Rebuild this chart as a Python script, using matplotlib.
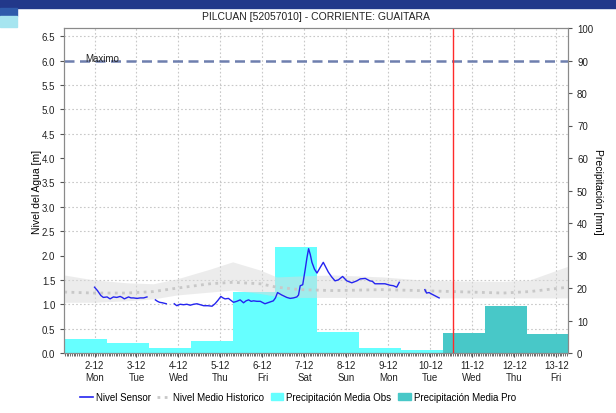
import numpy as np
import matplotlib
matplotlib.use('Agg')
import matplotlib.pyplot as plt
from matplotlib.ticker import MultipleLocator, FormatStrFormatter
from matplotlib.patches import Rectangle, Patch
from matplotlib.lines import Line2D

plt.rcParams['font.family'] = ['Liberation Sans', 'DejaVu Sans']

# x values are days of December (2.0 = 2-12 00:00)
day_ticks = [2, 3, 4, 5, 6, 7, 8, 9, 10, 11, 12, 13]
day_labels = ['2-12\nMon', '3-12\nTue', '4-12\nWed', '5-12\nThu', '6-12\nFri', '7-12\nSat',
              '8-12\nSun', '9-12\nMon', '10-12\nTue', '11-12\nWed', '12-12\nThu', '13-12\nFri']

# daily precipitation, each day counted from 07:00
obs_day = [0, 1, 2, 3, 4, 5, 6, 7, 8, 9]
obs_mm = [21.0, 4.3, 3.1, 1.5, 3.7, 18.9, 32.7, 6.6, 1.5, 0.9]
pro_day = [10, 11, 12]
pro_mm = [6.1, 14.5, 5.9]

# sensor level (nan = no data)
sensor_t = [2.00, 2.07, 2.15, 2.21, 2.30, 2.37, 2.45, 2.53, 2.61, 2.66, 2.71, 2.81, 2.87, 2.93, 3.01, 3.09, 3.17, 3.25,
            np.nan,
            3.45, 3.50, 3.55, 3.62, 3.71,
            np.nan,
            3.90, 3.96, 4.04, 4.12, 4.20, 4.28, 4.36, 4.44, 4.52, 4.60, 4.70, 4.80, 4.87, 4.94, 5.01, 5.06, 5.11,
            5.19, 5.25, 5.31, 5.39, 5.47, 5.55, 5.61, 5.67, 5.73, 5.79, 5.87, 5.95, 6.06, 6.16, 6.26, 6.31,
            6.36, 6.46, 6.58, 6.66, 6.74, 6.82, 6.86, 6.90, 6.96, 7.02, 7.06, 7.10, 7.14, 7.18, 7.24, 7.30,
            7.38, 7.45, 7.51, 7.57, 7.65, 7.73, 7.81, 7.91, 8.01, 8.07, 8.13, 8.19, 8.25, 8.33, 8.45, 8.56,
            8.62, 8.68, 8.80, 8.92, 9.04, 9.12, 9.20, 9.26,
            np.nan,
            9.87, 9.91, 9.97, 10.03, 10.12, 10.21]
sensor_m = [1.35, 1.28, 1.18, 1.14, 1.15, 1.11, 1.15, 1.14, 1.16, 1.14, 1.11, 1.15, 1.13, 1.13, 1.12, 1.13, 1.13, 1.15,
            np.nan,
            1.09, 1.06, 1.04, 1.03, 1.01,
            np.nan,
            1.01, 0.97, 1.00, 0.99, 1.00, 0.98, 1.00, 1.01, 0.99, 0.97, 0.97, 0.96, 1.01, 1.08, 1.16, 1.13, 1.11,
            1.12, 1.08, 1.04, 1.06, 1.09, 1.03, 1.07, 1.09, 1.06, 1.07, 1.06, 1.06, 1.01, 1.04, 1.07, 1.13,
            1.24, 1.19, 1.14, 1.12, 1.13, 1.15, 1.19, 1.38, 1.40, 1.72, 1.95, 2.14, 2.02, 1.86, 1.72, 1.64,
            1.76, 1.86, 1.76, 1.66, 1.56, 1.48, 1.50, 1.57, 1.48, 1.46, 1.44, 1.46, 1.48, 1.52, 1.53, 1.48,
            1.47, 1.42, 1.42, 1.42, 1.39, 1.38, 1.35, 1.45,
            np.nan,
            1.30, 1.23, 1.24, 1.21, 1.17, 1.13]

# historic mean level and its band
hist_t = [1.28, 1.98, 2.77, 3.40, 3.96, 4.75, 5.29, 5.95, 6.34, 6.90, 7.69, 8.88, 9.75, 10.55, 11.74, 12.37, 13.28]
hist_mean = [1.25, 1.23, 1.23, 1.26, 1.33, 1.42, 1.45, 1.42, 1.35, 1.30, 1.28, 1.30, 1.28, 1.26, 1.23, 1.26, 1.35]
hist_hi = [1.60, 1.50, 1.44, 1.42, 1.52, 1.72, 1.87, 1.70, 1.56, 1.58, 1.60, 1.56, 1.50, 1.48, 1.47, 1.50, 1.78]
hist_lo = [1.04, 1.04, 1.07, 1.11, 1.19, 1.25, 1.29, 1.22, 1.16, 1.14, 1.14, 1.14, 1.13, 1.13, 1.13, 1.13, 1.13]

nivel_maximo = 6.0
ahora = 10.54
mm_per_m = 15.0

W, H = 616, 414
fig = plt.figure(figsize=(W / 100, H / 100), dpi=100)

# web page banner behind the chart
fig.patches.append(Rectangle((0, 1 - 9 / H), 1, 9 / H, transform=fig.transFigure, color='#22388a'))
fig.patches.append(Rectangle((0, 1 - 17 / H), 17 / W, 8 / H, transform=fig.transFigure, color='#2f5bab'))
fig.patches.append(Rectangle((0, 1 - 28 / H), 17 / W, 11 / H, transform=fig.transFigure, color='#a6e5f0'))

ax_p = fig.add_axes([64.3 / W, 1 - 354 / H, (568 - 64.3) / W, (354 - 29) / H])
ax_l = ax_p.twinx()
ax_p.yaxis.tick_right()
ax_p.yaxis.set_label_position('right')
ax_l.yaxis.tick_left()
ax_l.yaxis.set_label_position('left')

# precipitation bars (right axis)
ax_p.bar([d + 7 / 24 for d in obs_day], obs_mm, width=1, align='edge', color='#66ffff', lw=0,
         label='Precipitación Media Obs')
ax_p.bar([d + 7 / 24 for d in pro_day], pro_mm, width=1, align='edge', color='#48c8c8', lw=0,
         label='Precipitación Media Pro')

ax_p.set_xlim(1.28, 13.28)
ax_p.set_ylim(0, 100)
ax_l.set_ylim(0, 100 / mm_per_m)

ax_p.set_xticks(day_ticks, day_labels)
ax_p.xaxis.set_minor_locator(MultipleLocator(1 / 24))
ax_p.yaxis.set_major_locator(MultipleLocator(10))
ax_p.yaxis.set_minor_locator(MultipleLocator(0.5 * mm_per_m))
ax_p.grid(axis='x', which='major', color='#c8c8c8', ls=(0, (1.5, 2)), lw=0.8)
ax_p.grid(axis='y', which='minor', color='#c8c8c8', ls=(0, (1.5, 2)), lw=0.8)
ax_p.set_axisbelow(True)

ax_l.yaxis.set_major_locator(MultipleLocator(0.5))
ax_l.yaxis.set_major_formatter(FormatStrFormatter('%.1f'))

# historic band and lines (left axis)
ax_l.fill_between(hist_t, hist_lo, hist_hi, color='#dadada', alpha=0.5, lw=0)
ax_l.plot(hist_t, hist_mean, color='#c8c8c8', lw=2, ls=(0, (1, 1.6)), label='Nivel Medio Historico')
ax_l.plot(sensor_t, sensor_m, color='#2424f0', lw=1.0, label='Nivel Sensor')
ax_l.axhline(nivel_maximo, color='#6e7fae', lw=1.8, ls=(0, (4, 2.2)))
ax_l.text(1.78, nivel_maximo, 'Maximo', fontsize=7, va='baseline', color='#222222')
ax_l.axvline(ahora, color='#ff2a2a', lw=1)

for a in (ax_p, ax_l):
    for s in a.spines.values():
        s.set_color('#8a8a8a')
    a.tick_params(which='major', length=3, width=0.8, color='#555555', labelsize=7, labelcolor='#222222')
ax_p.tick_params(axis='x', which='minor', length=2, width=0.6, color='#555555')
ax_p.tick_params(axis='y', which='minor', length=0)
ax_p.tick_params(axis='x', pad=2)

ax_l.set_ylabel('Nivel del Agua [m]', fontsize=7.5, labelpad=0)
ax_p.set_ylabel('Precipitación [mm]', fontsize=7.5, rotation=270, labelpad=7)

fig.text(316 / W, 1 - 17 / H, 'PILCUAN [52057010] - CORRIENTE: GUAITARA', ha='center', va='center',
         fontsize=7.5, color='#222222')

handles = [Line2D([], [], color='#2424f0', lw=1.2),
           Line2D([], [], color='#c8c8c8', lw=2, ls=(0, (1, 1.6))),
           Patch(color='#66ffff'), Patch(color='#48c8c8')]
labels = ['Nivel Sensor', 'Nivel Medio Historico', 'Precipitación Media Obs', 'Precipitación Media Pro']
fig.legend(handles, labels, loc='center', bbox_to_anchor=(298 / W, 1 - 398 / H), ncol=4, frameon=False,
           fontsize=7, handlelength=1.3, handletextpad=0.3, columnspacing=0.7)

fig.savefig('out.png', dpi=100)
